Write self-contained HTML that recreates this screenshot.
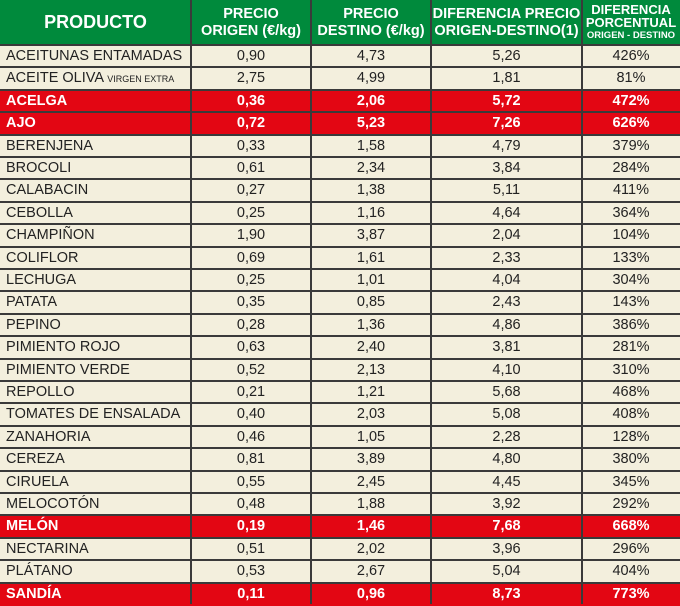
<!DOCTYPE html>
<html><head><meta charset="utf-8"><style>
body{margin:0;width:680px;height:604px;overflow:hidden;background:#f3efdd;font-family:"Liberation Sans",Arial,sans-serif;}
.r{position:absolute;left:0;width:680px;height:23px;background:#f3efdd;color:#222;font-size:14.5px;}
.r.red{background:#e30613;color:#fff;font-weight:bold;}
.c{position:absolute;top:0;height:22px;line-height:23px;text-align:center;}
.c0{left:6px;text-align:left;width:185px}
.c1{left:191px;width:120px}.c2{left:311px;width:120px}.c3{left:431px;width:151px}.c4{left:582px;width:98px}
.hl{position:absolute;left:0;width:680px;height:2px;background:#3a3a3a;}
.vl{position:absolute;top:0;width:2px;height:604px;background:#3a3a3a;}
.hd{position:absolute;top:0;left:0;width:680px;height:45px;background:#008a3c;color:#fff;font-weight:bold;}
.hd div{position:absolute;top:0;height:45px;display:flex;flex-direction:column;justify-content:center;align-items:center;text-align:center;line-height:17px;font-size:14.5px;}
small{font-size:9px}
</style></head><body>
<div class="hd">
<div style="left:0;width:191px;font-size:18px">PRODUCTO</div>
<div style="left:191px;width:120px">PRECIO<br>ORIGEN (€/kg)</div>
<div style="left:311px;width:120px">PRECIO<br>DESTINO (€/kg)</div>
<div style="left:431px;width:151px">DIFERENCIA PRECIO<br>ORIGEN-DESTINO(1)</div>
<div style="left:582px;width:98px;line-height:13px;font-size:13px">DIFERENCIA<br>PORCENTUAL<br><span style="font-size:9.5px">ORIGEN - DESTINO</span></div>
</div>
<div id="rows"></div>
<script>
var d=[["ACEITUNAS ENTAMADAS","0,90","4,73","5,26","426%"],["ACEITE OLIVA <small>VIRGEN EXTRA</small>","2,75","4,99","1,81","81%"],["ACELGA","0,36","2,06","5,72","472%",1],["AJO","0,72","5,23","7,26","626%",1],["BERENJENA","0,33","1,58","4,79","379%"],["BROCOLI","0,61","2,34","3,84","284%"],["CALABACIN","0,27","1,38","5,11","411%"],["CEBOLLA","0,25","1,16","4,64","364%"],["CHAMPIÑON","1,90","3,87","2,04","104%"],["COLIFLOR","0,69","1,61","2,33","133%"],["LECHUGA","0,25","1,01","4,04","304%"],["PATATA","0,35","0,85","2,43","143%"],["PEPINO","0,28","1,36","4,86","386%"],["PIMIENTO ROJO","0,63","2,40","3,81","281%"],["PIMIENTO VERDE","0,52","2,13","4,10","310%"],["REPOLLO","0,21","1,21","5,68","468%"],["TOMATES DE ENSALADA","0,40","2,03","5,08","408%"],["ZANAHORIA","0,46","1,05","2,28","128%"],["CEREZA","0,81","3,89","4,80","380%"],["CIRUELA","0,55","2,45","4,45","345%"],["MELOCOTÓN","0,48","1,88","3,92","292%"],["MELÓN","0,19","1,46","7,68","668%",1],["NECTARINA","0,51","2,02","3,96","296%"],["PLÁTANO","0,53","2,67","5,04","404%"],["SANDÍA","0,11","0,96","8,73","773%",1]];
var h="";
d.forEach(function(r,i){var t=Math.round(45+i*22.4);h+='<div class="r'+(r[5]?' red':'')+'" style="top:'+t+'px">';for(var j=0;j<5;j++)h+='<div class="c c'+j+'">'+r[j]+'</div>';h+='</div><div class="hl" style="top:'+(t-1)+'px"></div>';});
[191,311,431,582].forEach(function(x){h+='<div class="vl" style="left:'+(x-1)+'px"></div>';});
document.getElementById("rows").innerHTML=h;
</script>
</body></html>
